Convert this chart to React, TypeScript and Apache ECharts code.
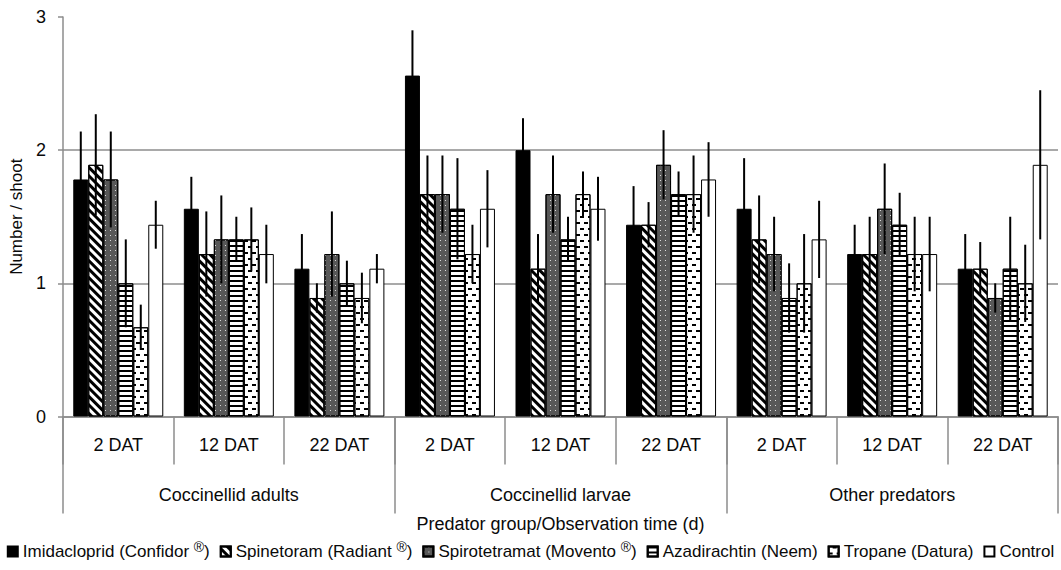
import React, { useEffect, useRef } from "react";
import * as echarts from "echarts";

const categories = ["2 DAT", "12 DAT", "22 DAT", "2 DAT", "12 DAT", "22 DAT", "2 DAT", "12 DAT", "22 DAT"];
const groups = ["Coccinellid adults", "Coccinellid larvae", "Other predators"];
const yTicks = [0, 1, 2, 3];

const treatments = [
  "Imidacloprid (Confidor®)",
  "Spinetoram (Radiant®)",
  "Spirotetramat (Movento®)",
  "Azadirachtin (Neem)",
  "Tropane (Datura)",
  "Control",
];

const imidacloprid = [1.78, 1.56, 1.11, 2.56, 2.0, 1.44, 1.56, 1.22, 1.11];
const spinetoram = [1.89, 1.22, 0.89, 1.67, 1.11, 1.44, 1.33, 1.22, 1.11];
const spirotetramat = [1.78, 1.33, 1.22, 1.67, 1.67, 1.89, 1.22, 1.56, 0.89];
const azadirachtin = [1.0, 1.33, 1.0, 1.56, 1.33, 1.67, 0.89, 1.44, 1.11];
const tropane = [0.67, 1.33, 0.89, 1.22, 1.67, 1.67, 1.0, 1.22, 1.0];
const control = [1.44, 1.22, 1.11, 1.56, 1.56, 1.78, 1.33, 1.22, 1.89];

const imidaclopridErr = [0.36, 0.24, 0.26, 0.34, 0.24, 0.29, 0.38, 0.22, 0.26];
const spinetoramErr = [0.38, 0.32, 0.11, 0.29, 0.26, 0.17, 0.33, 0.28, 0.2];
const spirotetramatErr = [0.36, 0.33, 0.32, 0.29, 0.29, 0.26, 0.28, 0.34, 0.11];
const azadirachtinErr = [0.33, 0.17, 0.17, 0.38, 0.17, 0.17, 0.26, 0.24, 0.39];
const tropaneErr = [0.17, 0.24, 0.19, 0.22, 0.17, 0.29, 0.37, 0.28, 0.29];
const controlErr = [0.18, 0.22, 0.11, 0.29, 0.24, 0.28, 0.29, 0.28, 0.56];

const values = [imidacloprid, spinetoram, spirotetramat, azadirachtin, tropane, control];
const errors = [imidaclopridErr, spinetoramErr, spirotetramatErr, azadirachtinErr, tropaneErr, controlErr];

const CAT_GAP = 0.186;
const FONT = "'Liberation Sans', Arial, sans-serif";
const TEXT = "#0a0a0a";

const styles: any[] = [
  { color: "#000000" },
  {
    color: "#ffffff",
    decal: { symbol: "rect", color: "#000000", dashArrayX: [1, 0], dashArrayY: [2.5, 2.5], rotation: Math.PI / 4, symbolSize: 1 },
  },
  {
    color: "#585858",
    decal: { symbol: "rect", color: "#dcdcdc", dashArrayX: [1, 3.5], dashArrayY: [1, 3.5], symbolSize: 1 },
  },
  {
    color: "#ffffff",
    decal: { symbol: "rect", color: "#000000", dashArrayX: [1, 0], dashArrayY: [2, 2.3], symbolSize: 1 },
  },
  {
    color: "#ffffff",
    decal: { symbol: "rect", color: "#000000", dashArrayX: [[4, 4], [0, 4, 4, 0]], dashArrayY: [1.3, 3.4], symbolSize: 1 },
  },
  { color: "#ffffff" },
];

export default function App() {
  const ref = useRef<HTMLDivElement>(null);
  useEffect(() => {
    if (!ref.current) return;
    const chart = echarts.init(ref.current, null, { renderer: "svg" });

    const errData: number[][] = [];
    values.forEach((arr, s) => arr.forEach((v, c) => errData.push([c, v, errors[s][c], s])));

    const barSeries = treatments.map((name, s) => ({
      name,
      type: "bar",
      xAxisIndex: 0,
      yAxisIndex: 0,
      barGap: "0%",
      barCategoryGap: CAT_GAP * 100 + "%",
      data: values[s],
      itemStyle: { ...styles[s], borderColor: "#000", borderWidth: 1 },
      z: 2,
    }));

    const errorSeries = {
      type: "custom",
      name: "err",
      xAxisIndex: 0,
      yAxisIndex: 0,
      z: 5,
      encode: { x: 0, y: 1 },
      data: errData,
      renderItem: (params: any, api: any) => {
        const c = api.value(0);
        const v = api.value(1);
        const e = api.value(2);
        const s = api.value(3);
        const band = api.size([1, 0])[0];
        const bw = (band * (1 - CAT_GAP)) / 6;
        const center = api.coord([c, v]);
        const x = center[0] - bw * 3 + bw * (s + 0.5);
        const top = api.coord([c, v + e])[1];
        const bot = api.coord([c, v - e])[1];
        return {
          type: "line",
          shape: { x1: x, y1: top, x2: x, y2: bot },
          style: { stroke: "#000", lineWidth: 2 },
        };
      },
    };

    const regName = (n: string) => {
      if (n.endsWith("®)")) {
        return "{t|" + n.slice(0, -2) + " }{r|®}{t|)}";
      }
      return "{t|" + n + "}";
    };

    chart.setOption({
      animation: false,
      textStyle: { fontFamily: FONT },
      grid: { left: 63, right: 3, top: 17, bottom: 153.5, containLabel: false },
      legend: {
        data: treatments,
        bottom: 5,
        left: "center",
        icon: "rect",
        itemWidth: 10,
        itemHeight: 10,
        itemGap: 10,
        formatter: regName,
        textStyle: {
          color: TEXT,
          fontSize: 17,
          rich: {
            t: { fontSize: 17, color: TEXT, fontFamily: FONT },
            r: { fontSize: 14, color: TEXT, fontFamily: FONT, padding: [0, 0, 10, 0] },
          },
        },
      },
      xAxis: [
        {
          type: "category",
          data: categories,
          position: "bottom",
          axisLine: { show: true, lineStyle: { color: "#8c8c8c", width: 1.5 } },
          axisTick: { show: true, length: 48, interval: 0, lineStyle: { color: "#8c8c8c", width: 1.5 } },
          axisLabel: { show: true, interval: 0, margin: 19, fontSize: 18, color: TEXT, fontFamily: FONT },
          name: "Predator group/Observation time (d)",
          nameLocation: "middle",
          nameGap: 98,
          nameTextStyle: { fontSize: 18, color: TEXT, fontFamily: FONT },
        },
        {
          type: "category",
          data: groups,
          position: "bottom",
          axisLine: { show: false },
          axisTick: { show: true, length: 97, interval: 0, lineStyle: { color: "#8c8c8c", width: 1.5 } },
          axisLabel: { show: true, interval: 0, margin: 69, fontSize: 18, color: TEXT, fontFamily: FONT },
        },
      ],
      yAxis: {
        type: "value",
        min: yTicks[0],
        max: yTicks[yTicks.length - 1],
        interval: 1,
        axisLine: { show: true, lineStyle: { color: "#8c8c8c", width: 1.5 } },
        axisTick: { show: true, length: 5, lineStyle: { color: "#8c8c8c", width: 1.5 } },
        axisLabel: { fontSize: 18, color: TEXT, margin: 17, fontFamily: FONT },
        splitLine: {
          show: true,
          lineStyle: { color: ["#8c8c8c", "#8c8c8c", "#8c8c8c", "rgba(0,0,0,0)"], width: 1.5 },
        },
        name: "Number / shoot",
        nameLocation: "middle",
        nameGap: 38,
        nameRotate: 90,
        nameTextStyle: { fontSize: 17, color: TEXT, fontFamily: FONT },
      },
      series: [...barSeries, errorSeries],
    });
    return () => chart.dispose();
  }, []);
  return <div ref={ref} style={{ width: 1061, height: 570, position: "absolute", left: 0, top: 0 }} />;
}
